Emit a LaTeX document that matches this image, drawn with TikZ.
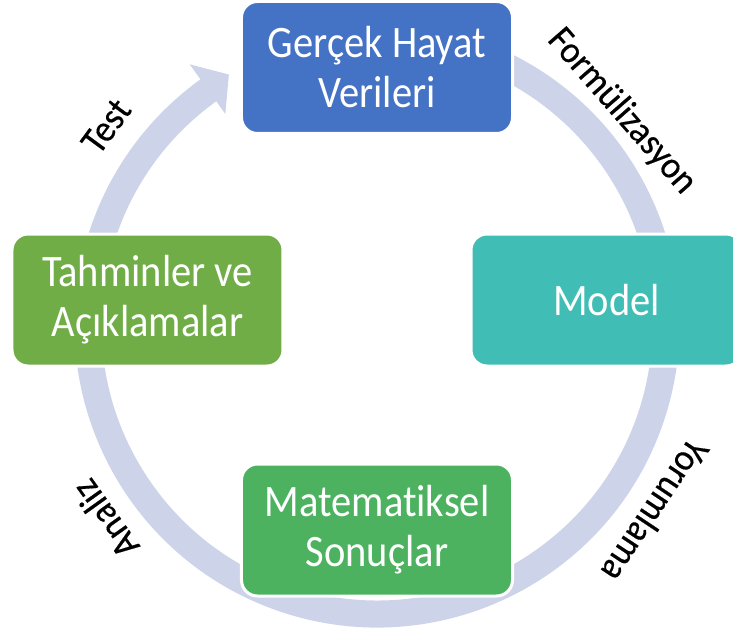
\documentclass[tikz,border=0pt]{standalone}
\usepackage{fontspec}
\setmainfont{Carlito}
\newfontfamily\boxfont[FakeStretch=0.9,Ligatures=NoCommon]{Carlito}
\newfontfamily\lblfont[FakeStretch=0.93,FakeBold=0.4,Ligatures=NoCommon]{Carlito}
\definecolor{ringc}{RGB}{205,211,233}
\definecolor{bluec}{RGB}{68,114,196}
\definecolor{tealc}{RGB}{64,189,180}
\definecolor{greenc}{RGB}{76,178,96}
\definecolor{olivec}{RGB}{112,173,71}
\begin{document}
\begin{tikzpicture}[x=1pt,y=1pt,
  box/.style={draw=white, line width=3pt, rounded corners=16pt,
    minimum width=271pt, minimum height=132pt, text=white, align=center,
    font=\boxfont\fontsize{45}{50}\selectfont, inner sep=0pt},
  lbl/.style={font=\lblfont\fontsize{38}{40}\selectfont, text=black, inner sep=0pt}]
\useasboundingbox (-377,-310) rectangle (356,325);
% ring with arrowhead
\fill[ringc] (70:302.5) arc[start angle=70, end angle=-234.3, radius=302.5]
  -- (125.7:321) -- (120.6:291) -- (125.7:260) -- (125.7:275.5)
  arc[start angle=-234.3, end angle=70, radius=275.5] -- cycle;
% boxes
\node[box, fill=bluec] (real) at (0,257.5) {Gerçek Hayat\\Verileri};
\node[box, fill=tealc] (model) at (229.5,25) {Model};
\node[box, fill=greenc] (math) at (0,-205) {Matematiksel\\Sonuçlar};
\node[box, fill=olivec] (pred) at (-229.5,25) {Tahminler ve\\Açıklamalar};
% labels
\node[lbl, rotate=53.7] (ltest) at (143.7:336) {Test};
\node[lbl, rotate=-48.9] (lform) at (41.1:325) {Formülizasyon};
\node[lbl, rotate=-123.7] (lyor) at (-33.7:335) {Yorumlama};
\node[lbl, rotate=125.5] (lana) at (215.5:334) {Analiz};
\end{tikzpicture}
\end{document}
